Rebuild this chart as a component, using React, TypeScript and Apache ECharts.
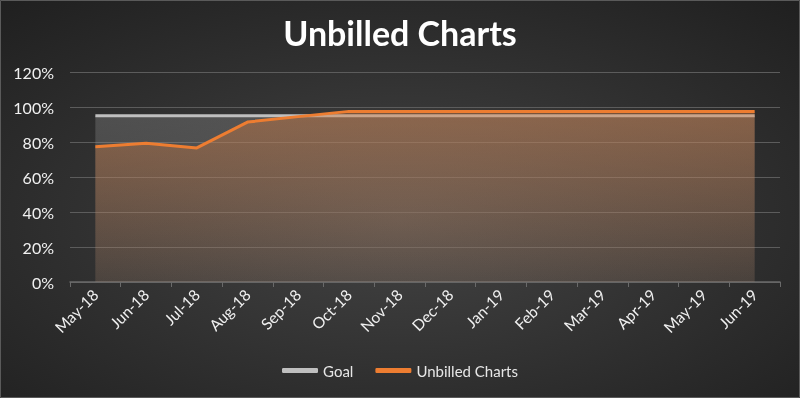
import React, { useEffect, useRef } from "react";
import * as echarts from "echarts";

const categories = ["May-18","Jun-18","Jul-18","Aug-18","Sep-18","Oct-18","Nov-18","Dec-18","Jan-19","Feb-19","Mar-19","Apr-19","May-19","Jun-19"];
const goal = [0.95,0.95,0.95,0.95,0.95,0.95,0.95,0.95,0.95,0.95,0.95,0.95,0.95,0.95];
const unbilled = [0.773,0.793,0.766,0.914,0.945,0.975,0.975,0.975,0.975,0.975,0.975,0.975,0.975,0.975];
const yTicks = [0, 0.2, 0.4, 0.6, 0.8, 1.0, 1.2];

const FONT = "Lato, 'Open Sans', sans-serif";

export default function App() {
  const ref = useRef<HTMLDivElement>(null);
  useEffect(() => {
    if (!ref.current) return;
    const chart = echarts.init(ref.current, null, { renderer: "svg" });
    chart.setOption({
      animation: false,
      backgroundColor: new echarts.graphic.RadialGradient(0.5, 0.55, 0.75, [
        { offset: 0, color: "#444444" },
        { offset: 1, color: "#1f1f1f" },
      ]),
      title: {
        text: "Unbilled Charts",
        left: "center",
        top: 10,
        textStyle: { color: "#ffffff", fontFamily: FONT, fontWeight: "bold", fontSize: 34 },
      },
      graphic: [
        {
          type: "rect",
          shape: { x: 0.5, y: 0.5, width: 799, height: 397 },
          style: { fill: "none", stroke: "#5a5a5a", lineWidth: 1 },
          silent: true,
        },
      ],
      legend: {
        bottom: 15,
        left: "center",
        itemWidth: 36,
        itemHeight: 5,
        itemGap: 22,
        icon: "roundRect",
        textStyle: { color: "#e6e6e6", fontFamily: FONT, fontSize: 15 },
        data: ["Goal", "Unbilled Charts"],
      },
      grid: { left: 70, right: 20, top: 72, bottom: 116 },
      xAxis: {
        type: "category",
        data: categories,
        boundaryGap: true,
        axisLine: { lineStyle: { color: "#6a6a6a", width: 1.5 } },
        axisTick: { show: true, length: 5, lineStyle: { color: "#6a6a6a" } },
        axisLabel: { rotate: 45, color: "#f0f0f0", fontFamily: FONT, fontSize: 15.5, margin: 10 },
      },
      yAxis: {
        type: "value",
        min: yTicks[0],
        max: yTicks[yTicks.length - 1],
        interval: 0.2,
        axisLine: { show: false },
        axisTick: { show: false },
        splitLine: { lineStyle: { color: "#5c5c5c", width: 1.2 } },
        axisLabel: {
          color: "#f0f0f0",
          fontFamily: FONT,
          fontSize: 16,
          margin: 16,
          formatter: (v: number) => Math.round(v * 100) + "%",
        },
      },
      series: [
        {
          name: "Goal",
          type: "line",
          data: goal,
          symbol: "none",
          color: "#bfbfbf",
          lineStyle: { color: "#bfbfbf", width: 3 },
          areaStyle: {
            color: new echarts.graphic.LinearGradient(0, 0, 0, 1, [
              { offset: 0, color: "rgba(150,150,150,0.45)" },
              { offset: 1, color: "rgba(150,150,150,0.2)" },
            ]),
          },
          z: 2,
        },
        {
          name: "Unbilled Charts",
          type: "line",
          data: unbilled,
          symbol: "none",
          color: "#ED7D31",
          lineStyle: { color: "#ED7D31", width: 3 },
          areaStyle: {
            color: new echarts.graphic.LinearGradient(0, 0, 0, 1, [
              { offset: 0, color: "rgba(215,125,65,0.6)" },
              { offset: 1, color: "rgba(215,125,65,0.12)" },
            ]),
          },
          z: 3,
        },
      ],
    });
    return () => chart.dispose();
  }, []);
  return (
    <div
      ref={ref}
      style={{ position: "fixed", left: 0, top: 0, width: 800, height: 398 }}
    />
  );
}
